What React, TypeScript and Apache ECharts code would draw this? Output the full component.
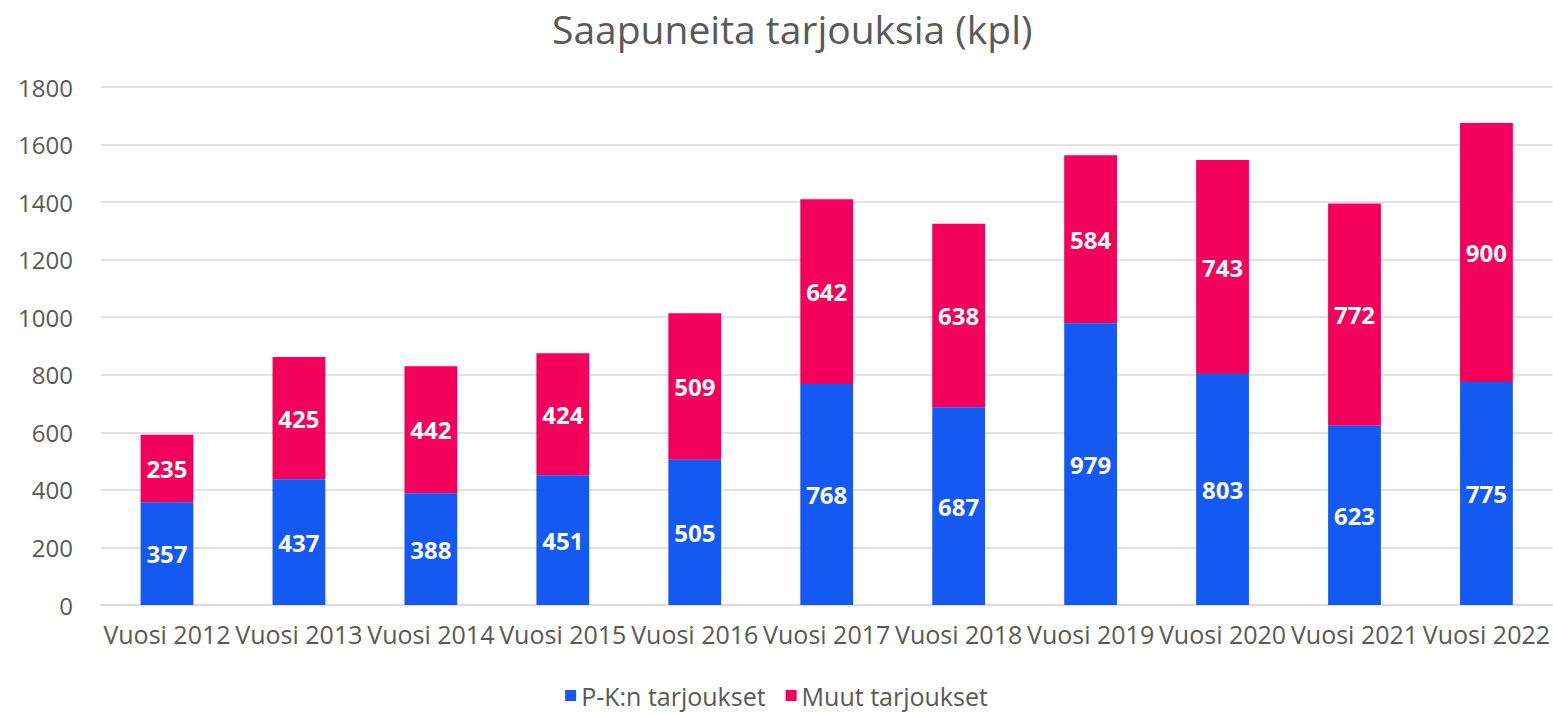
import React, { useEffect, useRef } from "react";
import * as echarts from "echarts";

const categories = ["Vuosi 2012", "Vuosi 2013", "Vuosi 2014", "Vuosi 2015", "Vuosi 2016", "Vuosi 2017", "Vuosi 2018", "Vuosi 2019", "Vuosi 2020", "Vuosi 2021", "Vuosi 2022"];
const pkValues = [357, 437, 388, 451, 505, 768, 687, 979, 803, 623, 775];
const muutValues = [235, 425, 442, 424, 509, 642, 638, 584, 743, 772, 900];
const seriesNames = ["P-K:n tarjoukset", "Muut tarjoukset"];
const title = "Saapuneita tarjouksia (kpl)";

const FONT = "'Open Sans', 'Noto Sans', sans-serif";
const GREY = "#595959";

export default function App() {
  const ref = useRef<HTMLDivElement>(null);
  useEffect(() => {
    if (!ref.current) return;
    const chart = echarts.init(ref.current, undefined, { renderer: "svg" });
    const label = {
      show: true,
      position: "inside",
      color: "#ffffff",
      fontWeight: "bold",
      fontSize: 24,
      fontFamily: FONT,
    };
    chart.setOption({
      animation: false,
      backgroundColor: "#ffffff",
      title: {
        text: title,
        left: 547,
        top: 4,
        textStyle: { fontFamily: FONT, fontSize: 39, fontWeight: "normal", color: GREY },
      },
      legend: {
        bottom: 1,
        left: "center",
        itemWidth: 11,
        itemHeight: 11,
        itemGap: 20,
        icon: "rect",
        textStyle: { fontFamily: FONT, fontSize: 25, color: GREY },
        data: seriesNames,
      },
      grid: { left: 101, right: 0, top: 87, bottom: 109, containLabel: false },
      xAxis: {
        type: "category",
        data: categories,
        axisLine: { lineStyle: { color: "#d9d9d9", width: 1.5 } },
        axisTick: { show: false },
        axisLabel: { interval: 0, fontFamily: FONT, fontSize: 25, color: GREY, margin: 16 },
      },
      yAxis: {
        type: "value",
        min: 0,
        max: 1800,
        interval: 200,
        axisLine: { show: false },
        axisTick: { show: false },
        axisLabel: {
          fontFamily: FONT,
          fontSize: 24,
          color: GREY,
          margin: 28,
          formatter: (v: number) => String(v),
        },
        splitLine: { lineStyle: { color: "#d9d9d9", width: 1.5 } },
      },
      series: [
        {
          name: seriesNames[0],
          type: "bar",
          stack: "total",
          barWidth: "40%",
          data: pkValues,
          itemStyle: { color: "#1559F3" },
          label,
        },
        {
          name: seriesNames[1],
          type: "bar",
          stack: "total",
          barWidth: "40%",
          data: muutValues,
          itemStyle: { color: "#F2005B" },
          label,
        },
      ],
    });
    return () => chart.dispose();
  }, []);
  return (
    <div
      ref={ref}
      style={{ position: "fixed", left: 0, top: 0, width: 1553, height: 714 }}
    />
  );
}
